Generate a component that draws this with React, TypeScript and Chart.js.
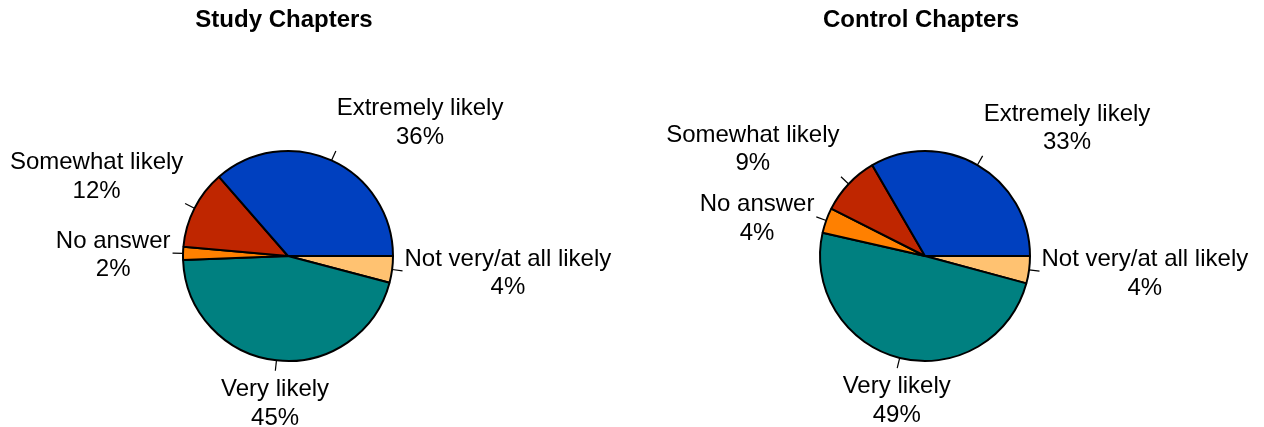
import React, { useEffect, useRef } from "react";
import { Chart, registerables } from "chart.js";

Chart.register(...registerables);

const categories = [
  "Extremely likely",
  "Somewhat likely",
  "No answer",
  "Very likely",
  "Not very/at all likely",
];
const studyValues = [36.4, 12.2, 2.0, 45.3, 4.1];
const controlValues = [33.4, 9.2, 3.9, 49.4, 4.2];
const sliceColors = ["#0040BF", "#BF2600", "#FF8000", "#008080", "#FFC271"];

const FONT = '"Liberation Sans", Arial, Helvetica, sans-serif';

const labelPlugin = {
  id: "pieLabels",
  afterDatasetsDraw(chart: any, _args: any, opts: any) {
    const ctx = chart.ctx;
    const meta = chart.getDatasetMeta(0);
    const labels = chart.data.labels as string[];
    const data = chart.data.datasets[0].data as number[];
    const total = data.reduce((a: number, b: number) => a + b, 0);
    ctx.save();
    ctx.font = `24px ${FONT}`;
    ctx.fillStyle = "#000";
    ctx.strokeStyle = "#000";
    ctx.lineWidth = 1.2;
    const lh = 28.5;
    meta.data.forEach((arc: any, i: number) => {
      const p = arc.getProps(["x", "y", "startAngle", "endAngle", "outerRadius"], true);
      const a = (p.startAngle + p.endAngle) / 2;
      const c = Math.cos(a);
      const s = Math.sin(a);
      const r = p.outerRadius;
      ctx.beginPath();
      ctx.moveTo(p.x + c * r, p.y + s * r);
      ctx.lineTo(p.x + c * r * 1.1, p.y + s * r * 1.1);
      ctx.stroke();
      const ax = p.x + c * (r * 1.1 + 2);
      const ay = p.y + s * (r * 1.1 + 2);
      const lines = [labels[i], Math.round((data[i] / total) * 100) + "%"];
      const w = Math.max(...lines.map((t) => ctx.measureText(t).width));
      let cx: number;
      if (c > 0.3) cx = ax + w / 2;
      else if (c < -0.3) cx = ax - w / 2;
      else cx = ax;
      const h = lh * 2;
      let cy: number;
      if (s < -0.4) cy = ay - h / 2;
      else if (s > 0.4) cy = ay + h / 2;
      else cy = ay;
      cy += 2.5;
      ctx.textAlign = "center";
      ctx.textBaseline = "middle";
      ctx.fillText(lines[0], cx, cy - lh / 2);
      ctx.fillText(lines[1], cx, cy + lh / 2);
    });
    if (opts && opts.title) {
      const area = chart.chartArea;
      const tx = (area.left + area.right) / 2 - 4;
      ctx.font = `bold 24px ${FONT}`;
      ctx.textAlign = "center";
      ctx.textBaseline = "alphabetic";
      ctx.fillText(opts.title, tx, 27);
    }
    ctx.restore();
  },
};

function PieChart(props: { values: number[]; title: string; padLeft: number }) {
  const ref = useRef<HTMLCanvasElement | null>(null);
  useEffect(() => {
    if (!ref.current) return;
    const order = [4, 3, 2, 1, 0];
    const chart = new Chart(ref.current, {
      type: "pie",
      data: {
        labels: order.map((i) => categories[i]),
        datasets: [
          {
            data: order.map((i) => props.values[i]),
            backgroundColor: order.map((i) => sliceColors[i]),
            borderColor: "#000",
            borderWidth: 2,
          },
        ],
      },
      options: {
        responsive: false,
        animation: false,
        rotation: 90,
        layout: {
          padding: { top: 150, bottom: 65, left: props.padLeft, right: 632 - props.padLeft - 212 },
        },
        plugins: {
          legend: { display: false },
          tooltip: { enabled: false },
          pieLabels: { title: props.title },
        } as any,
      },
      plugins: [labelPlugin as any],
    });
    return () => chart.destroy();
  }, []);
  return <canvas ref={ref} width={632} height={427} style={{ display: "block" }} />;
}

export default function App() {
  useEffect(() => {
    document.body.style.margin = "0";
  }, []);
  return (
    <div style={{ display: "flex", width: 1264, height: 427, background: "#fff" }}>
      <PieChart values={studyValues} title="Study Chapters" padLeft={182} />
      <PieChart values={controlValues} title="Control Chapters" padLeft={187} />
    </div>
  );
}
